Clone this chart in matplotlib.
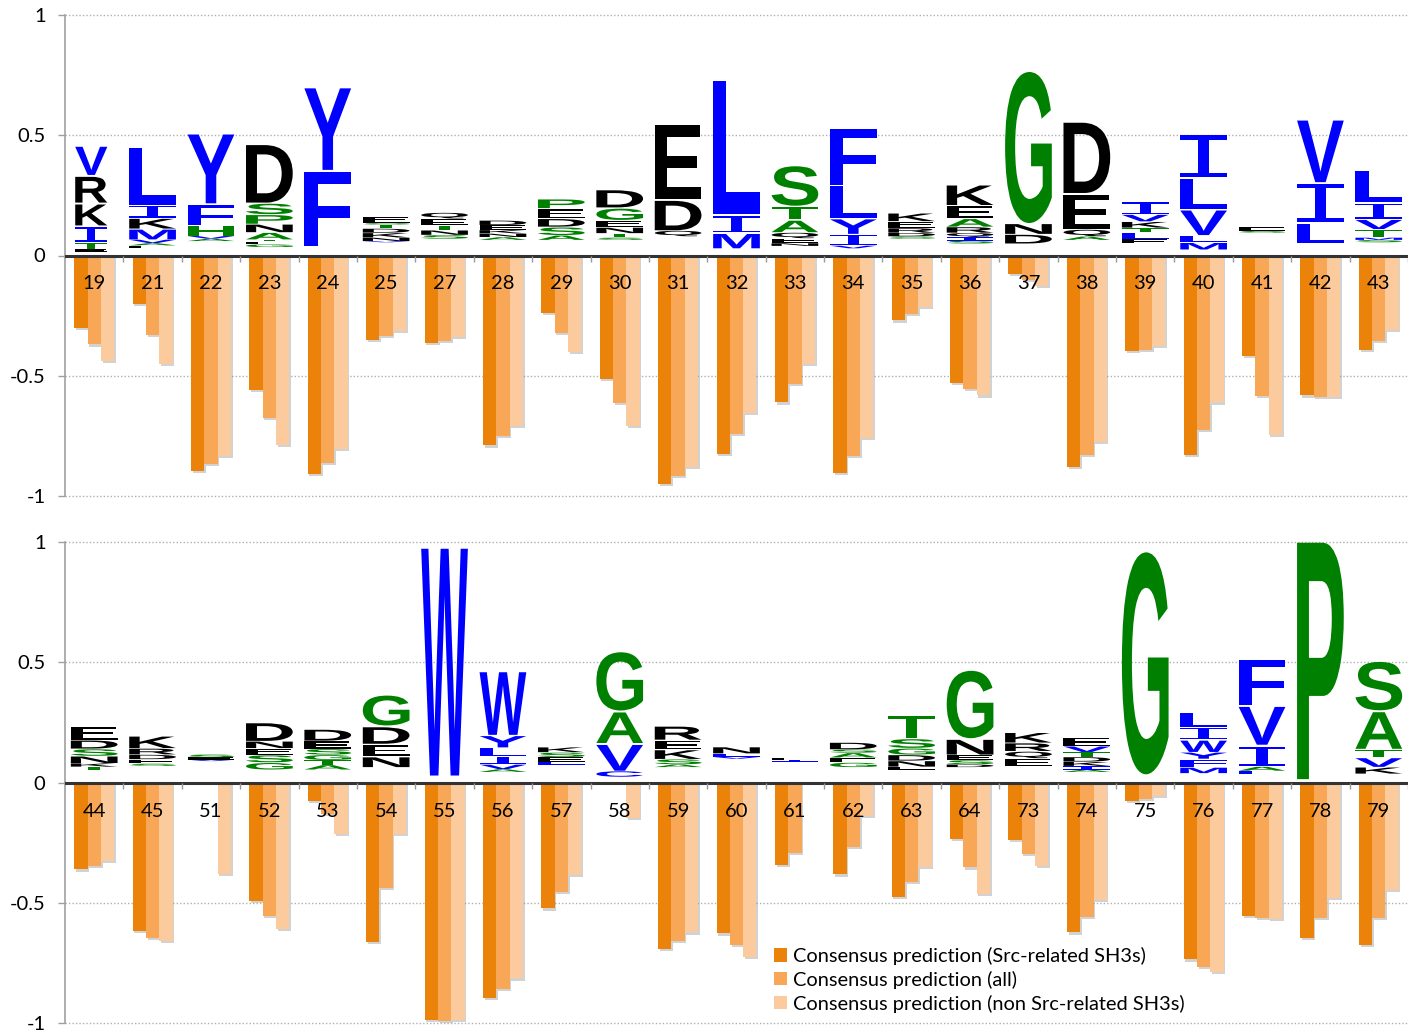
import numpy as np
import matplotlib
matplotlib.use("Agg")
import matplotlib.pyplot as plt
import matplotlib.patheffects as pe
from matplotlib.patches import PathPatch, Patch
from matplotlib.path import Path
from matplotlib.textpath import TextPath
from matplotlib.font_manager import FontProperties
from matplotlib.transforms import Affine2D

# positions des résidus (panneau du haut / du bas)
top_positions = ['19', '21', '22', '23', '24', '25', '27', '28', '29', '30', '31', '32',
                 '33', '34', '35', '36', '37', '38', '39', '40', '41', '42', '43']
bot_positions = ['44', '45', '51', '52', '53', '54', '55', '56', '57', '58', '59', '60',
                 '61', '62', '63', '64', '73', '74', '75', '76', '77', '78', '79']

# prédictions consensus (valeurs négatives)
top_src = [-0.30, -0.20, -0.895, -0.558, -0.908, -0.353, -0.364, -0.79, -0.239, -0.514, -0.95, -0.825,
           -0.611, -0.903, -0.27, -0.53, -0.075, -0.878, -0.396, -0.829, -0.419, -0.582, -0.392]
top_all = [-0.37, -0.33, -0.867, -0.676, -0.864, -0.336, -0.357, -0.75, -0.322, -0.614, -0.915, -0.743,
           -0.533, -0.833, -0.242, -0.556, -0.10, -0.829, -0.392, -0.725, -0.583, -0.589, -0.357]
top_non = [-0.44, -0.45, -0.833, -0.787, -0.806, -0.315, -0.339, -0.707, -0.40, -0.707, -0.878, -0.656,
           -0.451, -0.76, -0.214, -0.582, -0.125, -0.776, -0.378, -0.611, -0.746, -0.59, -0.308]

bot_src = [-0.36, -0.617, 0, -0.491, -0.077, -0.661, -0.986, -0.894, -0.522, 0, -0.689, -0.626,
           -0.343, -0.381, -0.474, -0.232, -0.236, -0.622, -0.077, -0.734, -0.553, -0.643, -0.672]
bot_all = [-0.347, -0.645, 0, -0.553, -0.13, -0.437, -0.99, -0.855, -0.453, 0, -0.658, -0.675,
           -0.29, -0.266, -0.412, -0.352, -0.294, -0.557, -0.066, -0.765, -0.561, -0.561, -0.561]
bot_non = [-0.326, -0.657, -0.38, -0.606, -0.211, -0.211, -0.984, -0.813, -0.384, -0.145, -0.622, -0.723,
           0, -0.138, -0.35, -0.463, -0.345, -0.485, -0.056, -0.786, -0.564, -0.477, -0.446]

# logos : base, lettres (du bas vers le haut), hauteurs
top_logo_base = [0.015, 0.03, 0.06, 0.035, 0.038, 0.055, 0.07, 0.065, 0.065, 0.065, 0.08, 0.03,
                 0.04, 0.03, 0.07, 0.05, 0.05, 0.065, 0.05, 0.025, 0.095, 0.05, 0.055]
top_logo_letters = ["ETIKRV", "EAVMKIL", "AVHFY", "GETANPSD", "LFY", "VNKDTSE", "SNTEQ", "ANKED",
                    "ASDEP", "STNEGD", "QDE", "MIL", "NEQATS", "VIYLF", "SDREK", "SIQRAEK", "DNG",
                    "AQED", "ELTKVI", "MLVLI", "SE", "LIV", "SMTVIL"]
top_logo_heights = [
    [0.012, 0.03, 0.068, 0.095, 0.115, 0.125],
    [0.012, 0.01, 0.015, 0.045, 0.045, 0.055, 0.242],
    [0.01, 0.012, 0.045, 0.09, 0.294],
    [0.012, 0.012, 0.008, 0.03, 0.035, 0.04, 0.048, 0.247],
    [0.006, 0.312, 0.347],
    [0.005, 0.015, 0.02, 0.018, 0.016, 0.008, 0.025],
    [0.016, 0.02, 0.02, 0.028, 0.026],
    [0.012, 0.015, 0.015, 0.02, 0.02],
    [0.02, 0.035, 0.035, 0.042, 0.04],
    [0.01, 0.018, 0.025, 0.03, 0.052, 0.079],
    [0.025, 0.13, 0.314],
    [0.066, 0.077, 0.56],
    [0.012, 0.02, 0.025, 0.053, 0.057, 0.172],
    [0.012, 0.048, 0.067, 0.138, 0.237],
    [0.01, 0.015, 0.02, 0.028, 0.035],
    [0.012, 0.015, 0.018, 0.025, 0.035, 0.055, 0.089],
    [0.04, 0.045, 0.636],
    [0.015, 0.03, 0.15, 0.30],
    [0.02, 0.028, 0.018, 0.026, 0.03, 0.054],
    [0.03, 0.03, 0.11, 0.13, 0.182],
    [0.008, 0.015],
    [0.09, 0.165, 0.264],
    [0.01, 0.01, 0.035, 0.042, 0.07, 0.136],
]

bot_logo_base = [0.055, 0.07, 0.09, 0.055, 0.055, 0.065, 0.03, 0.045, 0.075, 0.025, 0.065, 0.1,
                 0.088, 0.065, 0.055, 0.065, 0.07, 0.045, 0.035, 0.04, 0.035, 0.015, 0.038]
bot_logo_letters = ["TKNSDE", "SEDRK", "VES", "GSEND", "ATGSED", "NEDG", "W", "AVILYW", "LESK",
                    "CVAG", "ASKER", "VLN", "IE", "GEASD", "ENDGST", "DSENG", "EQRK", "AIKDTVE",
                    "G", "MFYWIL", "LAIVF", "P", "KVTAS"]
bot_logo_heights = [
    [0.012, 0.015, 0.03, 0.03, 0.037, 0.057],
    [0.01, 0.018, 0.02, 0.026, 0.053],
    [0.006, 0.01, 0.012],
    [0.03, 0.032, 0.027, 0.03, 0.081],
    [0.02, 0.02, 0.022, 0.025, 0.033, 0.05],
    [0.045, 0.052, 0.076, 0.132],
    [0.95],
    [0.012, 0.02, 0.035, 0.035, 0.052, 0.268],
    [0.012, 0.02, 0.02, 0.022],
    [0.025, 0.115, 0.135, 0.25],
    [0.012, 0.022, 0.04, 0.04, 0.06],
    [0.008, 0.014, 0.028],
    [0.006, 0.01],
    [0.02, 0.02, 0.02, 0.014, 0.03],
    [0.012, 0.025, 0.025, 0.028, 0.04, 0.102],
    [0.012, 0.018, 0.022, 0.068, 0.288],
    [0.032, 0.03, 0.035, 0.044],
    [0.01, 0.015, 0.018, 0.02, 0.02, 0.025, 0.037],
    [0.93],
    [0.025, 0.035, 0.028, 0.052, 0.052, 0.065],
    [0.015, 0.018, 0.09, 0.165, 0.196],
    [0.99],
    [0.028, 0.04, 0.035, 0.16, 0.209],
]

series_labels = ['Consensus prediction (Src-related SH3s)',
                 'Consensus prediction (all)',
                 'Consensus prediction (non Src-related SH3s)']
bar_colors = ['#EB830B', '#F8A756', '#FBCA9D']

# couleurs des acides aminés
aa_colors = {}
for aa in "VILMFWYC":
    aa_colors[aa] = '#0000FF'
for aa in "GSTAPH":
    aa_colors[aa] = '#008000'
for aa in "DEKRNQ":
    aa_colors[aa] = '#000000'

plt.rcParams['font.family'] = ['Lato', 'DejaVu Sans']
logo_font = FontProperties(family='Liberation Sans', weight='bold')

W, H = 1416, 1034
fig = plt.figure(figsize=(W / 100, H / 100), dpi=100)


def i_beam_path():
    # "I" avec empattements, comme dans les logos de séquence
    t, s = 0.11, 0.24
    a, b = 0.5 - s / 2, 0.5 + s / 2
    verts = [(0, 0), (1, 0), (1, t), (b, t), (b, 1 - t), (1, 1 - t), (1, 1), (0, 1),
             (0, 1 - t), (a, 1 - t), (a, t), (0, t), (0, 0)]
    codes = [Path.MOVETO] + [Path.LINETO] * 11 + [Path.CLOSEPOLY]
    return Path(verts, codes)


def draw_letter(ax, letter, x0, y0, w, h):
    if letter == 'I':
        path = i_beam_path()
    else:
        path = TextPath((0, 0), letter, size=1, prop=logo_font)
    bb = path.get_extents()
    trans = Affine2D().translate(-bb.x0, -bb.y0).scale(w / bb.width, h / bb.height).translate(x0, y0)
    patch = PathPatch(trans.transform_path(path), facecolor=aa_colors[letter],
                      edgecolor='none', zorder=4, clip_on=False)
    ax.add_patch(patch)


def draw_panel(ax, positions, src, allv, non, bases, letters, heights):
    n = len(positions)
    x = np.arange(n)
    bw = 0.228
    shadow = [pe.SimplePatchShadow(offset=(1.2, -1.5), shadow_rgbFace='#808080', alpha=0.35), pe.Normal()]
    for k, vals in enumerate([src, allv, non]):
        bars = ax.bar(x + (k - 1) * bw, vals, width=bw, color=bar_colors[k], zorder=2,
                      label=series_labels[k])
        for b in bars:
            if b.get_height() != 0:
                b.set_path_effects(shadow)

    # logo au-dessus de zéro
    for i in range(n):
        lw = 0.55 if positions[i] == '19' else 0.8
        xc = i - 0.05 if positions[i] == '19' else i
        y = bases[i]
        for letter, h in zip(letters[i], heights[i]):
            gap = min(0.1 * h, 0.008)
            draw_letter(ax, letter, xc - lw / 2, y, lw, h - gap)
            y += h

    for i, lab in enumerate(positions):
        ax.text(i, -0.118, lab, ha='center', va='center', fontsize=14.5, zorder=6)

    ax.axhline(0, color='#333333', lw=2.2, zorder=5)
    ax.vlines(np.arange(0.5, n, 1), -0.025, 0, colors='#999999', lw=1, zorder=5)

    ax.set_xlim(-0.5, n - 0.5)
    ax.set_ylim(-1.01, 1.01)
    ax.set_yticks([-1, -0.5, 0, 0.5, 1])
    ax.set_yticklabels(['-1', '-0.5', '0', '0.5', '1'], fontsize=14.5)
    ax.set_xticks([])
    ax.yaxis.grid(True, linestyle=(0, (1, 1.5)), color='#b0b0b0', lw=1)
    ax.set_axisbelow(True)
    for s in ['top', 'right', 'bottom']:
        ax.spines[s].set_visible(False)
    ax.spines['left'].set_color('#a0a0a0')
    ax.spines['left'].set_linewidth(1.2)
    ax.spines['left'].set_bounds(-1, 1)
    ax.tick_params(axis='y', length=5, width=1, color='#a0a0a0', pad=9)


x_left = 65 / W
ax_w = 1343 / W
ax_top = fig.add_axes([x_left, 1 - 498.4 / H, ax_w, 485.8 / H])
ax_bot = fig.add_axes([x_left, 1 - 1025.9 / H, ax_w, 486.3 / H])

draw_panel(ax_top, top_positions, top_src, top_all, top_non,
           top_logo_base, top_logo_letters, top_logo_heights)
draw_panel(ax_bot, bot_positions, bot_src, bot_all, bot_non,
           bot_logo_base, bot_logo_letters, bot_logo_heights)

handles = [Patch(facecolor=c, edgecolor='none') for c in bar_colors]
ax_bot.legend(handles, series_labels, loc='upper left', bbox_to_anchor=(0.528, 0.162),
              frameon=False, fontsize=14.4, handlelength=0.65, handleheight=0.65,
              handletextpad=0.3, labelspacing=0.28, borderaxespad=0, borderpad=0)

fig.savefig('out.png', dpi=100)
